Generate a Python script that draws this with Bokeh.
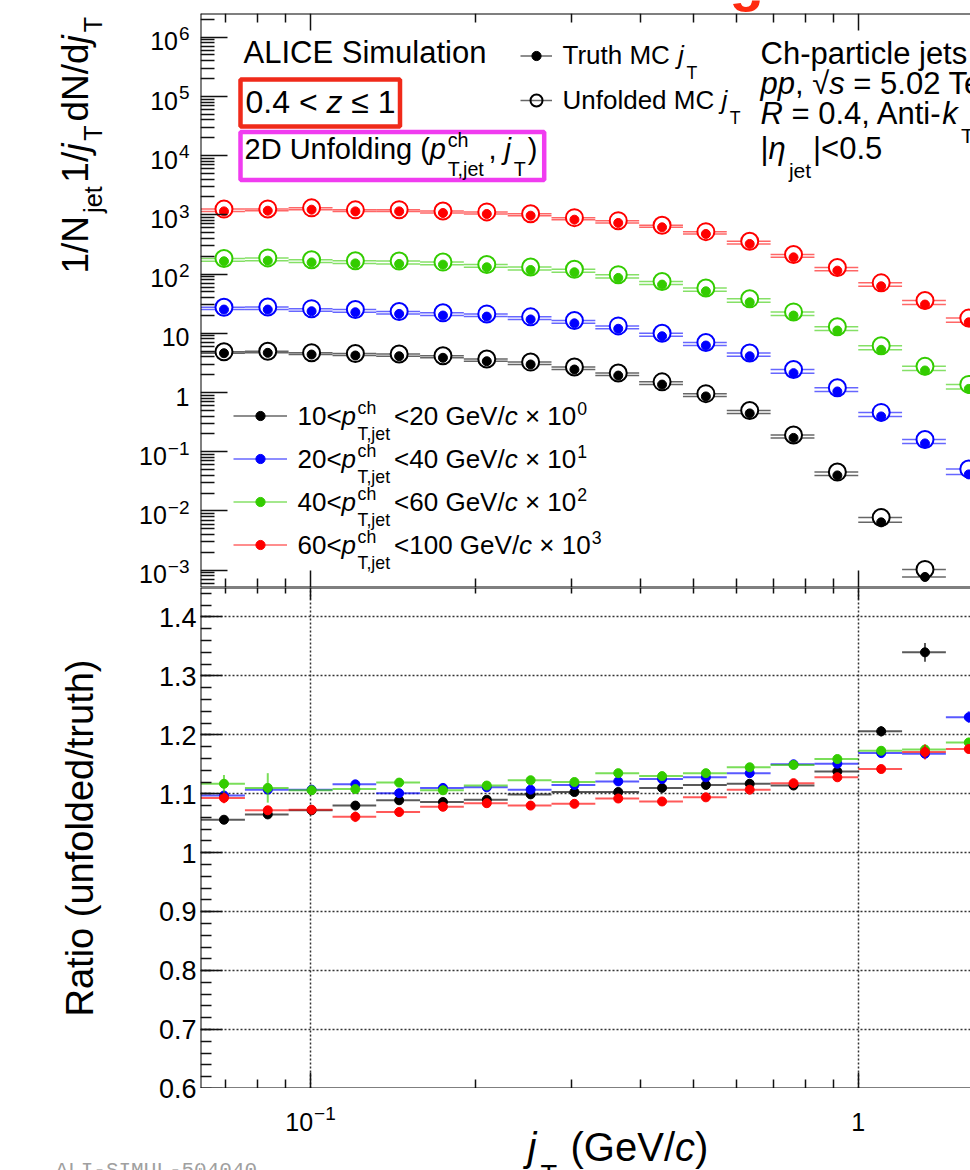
import math
from bokeh.plotting import figure
from bokeh.models import (ColumnDataSource, FixedTicker, LogAxis, Label, BoxAnnotation,
                          Legend, LegendItem, Range1d, CustomJSTickFormatter)
from bokeh.layouts import column, row
from bokeh.embed import file_html
from bokeh.resources import INLINE

# ---------------- data ----------------
jt_edges = [0.0631, 0.0759, 0.0912, 0.1097, 0.1318, 0.1585, 0.1905, 0.2291, 0.2754,
            0.3311, 0.3981, 0.4786, 0.5754, 0.6918, 0.8318, 1.0, 1.2023, 1.4454, 1.7378]

pt_low = [10, 20, 40, 60]
pt_high = [20, 40, 60, 100]
scale_exp = [0, 1, 2, 3]
colors = ["#000000", "#0000ff", "#33cc00", "#ff0000"]

truth_10_20 = [4.60, 4.67, 4.37, 4.21, 4.09, 3.85, 3.37, 2.97, 2.44, 1.93, 1.36, 0.857,
               0.443, 0.171, 0.0398, 0.00642, 0.000768]
unfolded_10_20 = [4.86, 4.97, 4.69, 4.55, 4.45, 4.18, 3.67, 3.26, 2.69, 2.13, 1.51, 0.956,
                  0.495, 0.191, 0.0453, 0.00774, 0.00103]
ratio_10_20 = [1.056, 1.065, 1.072, 1.080, 1.089, 1.086, 1.090, 1.099, 1.103, 1.103, 1.110,
               1.115, 1.117, 1.114, 1.138, 1.206, 1.340]
ratio_err_10_20 = [0.004, 0.004, 0.004, 0.004, 0.004, 0.004, 0.004, 0.004, 0.004, 0.004,
                   0.005, 0.005, 0.005, 0.006, 0.007, 0.009, 0.016]

truth_20_40 = [2.51, 2.51, 2.35, 2.26, 2.12, 1.99, 1.91, 1.71, 1.47, 1.19, 0.889, 0.620,
               0.409, 0.212, 0.104, 0.0394, 0.0138, 0.00414]
unfolded_20_40 = [2.75, 2.78, 2.60, 2.52, 2.33, 2.21, 2.12, 1.89, 1.64, 1.33, 1.00, 0.699,
                  0.464, 0.244, 0.120, 0.0461, 0.0161, 0.00509]
ratio_20_40 = [1.097, 1.107, 1.107, 1.116, 1.101, 1.110, 1.111, 1.107, 1.115, 1.121, 1.125,
               1.128, 1.135, 1.150, 1.151, 1.169, 1.168, 1.230]
ratio_err_20_40 = [0.005, 0.005, 0.004, 0.004, 0.004, 0.004, 0.004, 0.004, 0.004, 0.004,
                   0.004, 0.004, 0.005, 0.005, 0.006, 0.007, 0.008, 0.010]

truth_40_60 = [1.64, 1.68, 1.57, 1.51, 1.48, 1.44, 1.30, 1.17, 1.07, 0.859, 0.662, 0.511,
               0.333, 0.199, 0.111, 0.0525, 0.0235, 0.0115]
unfolded_40_60 = [1.83, 1.87, 1.74, 1.67, 1.66, 1.59, 1.45, 1.31, 1.20, 0.975, 0.748, 0.580,
                  0.381, 0.229, 0.129, 0.0616, 0.0276, 0.0137]
ratio_40_60 = [1.117, 1.110, 1.106, 1.108, 1.119, 1.106, 1.114, 1.123, 1.120, 1.135, 1.130,
               1.135, 1.145, 1.149, 1.159, 1.173, 1.175, 1.187]
ratio_err_40_60 = [0.015, 0.025, 0.005, 0.004, 0.004, 0.004, 0.004, 0.004, 0.004, 0.004,
                   0.004, 0.004, 0.005, 0.005, 0.005, 0.006, 0.007, 0.008]

truth_60_100 = [1.141, 1.172, 1.219, 1.141, 1.141, 1.072, 1.031, 0.966, 0.826, 0.728, 0.614,
                0.474, 0.322, 0.191, 0.114, 0.0621, 0.0305, 0.0153]
unfolded_60_100 = [1.247, 1.256, 1.308, 1.211, 1.220, 1.156, 1.118, 1.043, 0.895, 0.795,
                   0.667, 0.519, 0.357, 0.214, 0.129, 0.0709, 0.0357, 0.0180]
ratio_60_100 = [1.093, 1.072, 1.073, 1.061, 1.069, 1.078, 1.084, 1.080, 1.083, 1.092, 1.087,
                1.094, 1.107, 1.118, 1.128, 1.142, 1.171, 1.176]
ratio_err_60_100 = [0.009, 0.005, 0.004, 0.009, 0.004, 0.004, 0.004, 0.004, 0.004, 0.004,
                    0.004, 0.004, 0.005, 0.005, 0.005, 0.006, 0.013, 0.008]

truth = [truth_10_20, truth_20_40, truth_40_60, truth_60_100]
unfolded = [unfolded_10_20, unfolded_20_40, unfolded_40_60, unfolded_60_100]
ratio = [ratio_10_20, ratio_20_40, ratio_40_60, ratio_60_100]
ratio_err = [ratio_err_10_20, ratio_err_20_40, ratio_err_40_60, ratio_err_60_100]

X0, X1 = 0.06297, 1.603
Y0, Y1 = 5.1e-4, 2.5e6
R0, R1 = 0.6, 1.45

y_major = [10.0 ** n for n in range(-3, 7)]
y_minor = [k * 10.0 ** n for n in range(-4, 7) for k in range(2, 10)
           if Y0 < k * 10.0 ** n < Y1]
x_major = [0.1, 1.0]
x_minor = [0.07, 0.08, 0.09, 0.2, 0.3, 0.4, 0.5, 0.6, 0.7, 0.8, 0.9]
r_major = [0.6, 0.7, 0.8, 0.9, 1.0, 1.1, 1.2, 1.3, 1.4]
r_minor = [round(0.6 + 0.02 * i, 2) for i in range(0, 43)]

# ---------------- page geometry ----------------
FR_L, FR_R = 200, 970
UP_T, UP_B = 13, 587
LO_T, LO_B = 587, 1088
PAGE_H = 1170


def xpage(v):
    return FR_L + (math.log10(v) - math.log10(X0)) / (math.log10(X1) - math.log10(X0)) * (FR_R - FR_L)


def ypage_up(v):
    return UP_B - (math.log10(v) - math.log10(Y0)) / (math.log10(Y1) - math.log10(Y0)) * (UP_B - UP_T)


def ypage_lo(v):
    return LO_B - (v - R0) / (R1 - R0) * (LO_B - LO_T)


# ---------------- text helpers ----------------
FONT = "Liberation Sans"
W = {' ': 278, '!': 278, '(': 333, ')': 333, ',': 278, '-': 333, '.': 278, '/': 278,
     '<': 584, '=': 584, '>': 584, '|': 260, '≤': 549, '×': 584, '−': 584, '√': 549, 'η': 556,
     'A': 667, 'B': 667, 'C': 722, 'D': 722, 'E': 667, 'F': 611, 'G': 778, 'H': 722, 'I': 278,
     'J': 500, 'K': 667, 'L': 556, 'M': 833, 'N': 722, 'O': 778, 'P': 667, 'Q': 778, 'R': 722,
     'S': 667, 'T': 611, 'U': 722, 'V': 667, 'W': 944, 'X': 667, 'Y': 667, 'Z': 611,
     'a': 556, 'b': 556, 'c': 500, 'd': 556, 'e': 556, 'f': 278, 'g': 556, 'h': 556, 'i': 222,
     'j': 222, 'k': 500, 'l': 222, 'm': 833, 'n': 556, 'o': 556, 'p': 556, 'q': 556, 'r': 333,
     's': 500, 't': 278, 'u': 556, 'v': 500, 'w': 722, 'x': 500, 'y': 500, 'z': 500}
for d in "0123456789":
    W[d] = 556

BASE_SHIFT = 0.35   # the anchor Bokeh uses sits this many em above the alphabetic baseline


def tw(s, fs):
    return sum(W.get(c, 556) for c in s) * fs / 1000.0


class Writer:
    """Places texts given in page pixel coordinates (baseline) on one figure."""

    def __init__(self, fig, frame_mode):
        self.fig = fig
        self.frame_mode = frame_mode

    def lab(self, x, y, text, fs, style="normal", color="black", angle=0.0, align="left",
            font=FONT):
        if align == "left":
            stripped = text.lstrip(" ")
            adv = tw(text[:len(text) - len(stripped)], fs)
            if angle == 0.0:
                x += adv
            else:
                y -= adv
            text = stripped.rstrip(" ")
        if angle == 0.0:
            y -= BASE_SHIFT * fs
        else:
            x -= BASE_SHIFT * fs
        if self.frame_mode:
            kw = dict(x=x - FR_L, y=UP_B - y, x_units="screen", y_units="screen")
        else:
            kw = dict(x=x, y=y, x_units="data", y_units="data")
        self.fig.add_layout(Label(text=text, text_font=font, text_font_size="%.1fpx" % fs,
                                  text_font_style=style, text_color=color, text_align=align,
                                  text_baseline="alphabetic", angle=angle, **kw))

    def rich(self, x, base, fs, parts, color="black"):
        small = fs * 0.68
        for part in parts:
            kind = part[0]
            if kind in ("n", "i"):
                self.lab(x, base, part[1], fs, "italic" if kind == "i" else "normal", color)
                x += tw(part[1], fs)
            elif kind == "sup":
                x += 0.04 * fs
                self.lab(x, base - 0.42 * fs, part[1], small, "normal", color)
                x += tw(part[1], small) + 0.04 * fs
            elif kind == "sub":
                x += 0.1 * fs
                self.lab(x, base + 0.58 * fs, part[1], small, "normal", color)
                x += tw(part[1], small) + 0.06 * fs
            elif kind == "stack":
                x += 0.06 * fs
                self.lab(x, base - 0.42 * fs, part[1], small, "normal", color)
                self.lab(x, base + 0.58 * fs, part[2], small, "normal", color)
                x += max(tw(part[1], small), tw(part[2], small)) + 0.08 * fs

    def rich_v(self, xb, y, fs, parts):
        small = fs * 0.68
        for kind, t in parts:
            if kind in ("n", "i"):
                self.lab(xb, y, t, fs, "italic" if kind == "i" else "normal",
                         angle=math.pi / 2)
                y -= tw(t, fs)
            else:
                y -= 0.08 * fs
                self.lab(xb + 0.37 * fs, y, t, small, angle=math.pi / 2)
                y -= tw(t, small) + 0.1 * fs


BLANK = "return '';"


def style_axis(ax, major_in, minor_in, loc):
    ax.fixed_location = loc
    ax.major_tick_in = major_in
    ax.major_tick_out = 0
    ax.minor_tick_in = minor_in
    ax.minor_tick_out = 0
    ax.axis_line_width = 2
    ax.axis_line_color = "black"
    ax.major_tick_line_width = 1.5
    ax.minor_tick_line_width = 1.5
    ax.major_tick_line_color = "#111111"
    ax.minor_tick_line_color = "#111111"
    ax.formatter = CustomJSTickFormatter(code=BLANK)
    ax.major_label_text_font_size = "1px"
    ax.major_label_standoff = 0


def text_canvas(w, h, xr, yr):
    f = figure(width=w, height=h, x_range=xr, y_range=yr, x_axis_location=None,
               y_axis_location=None, min_border=0, toolbar_location=None,
               output_backend="svg")
    f.outline_line_color = None
    f.grid.visible = False
    f.background_fill_color = "white"
    f.border_fill_color = "white"
    return f


# ---------------- figures ----------------
xr = Range1d(X0, X1)

p1 = figure(width=FR_R - FR_L, height=UP_B - UP_T, x_axis_type="log", y_axis_type="log",
            x_range=xr, y_range=Range1d(Y0, Y1), output_backend="svg", toolbar_location=None,
            min_border=0)
p2 = figure(width=FR_R - FR_L, height=LO_B - LO_T, x_axis_type="log", x_range=xr,
            y_range=Range1d(R0, R1), output_backend="svg", toolbar_location=None,
            min_border=0)
left = text_canvas(FR_L, PAGE_H, Range1d(0, FR_L), Range1d(PAGE_H, 0))
topstrip = text_canvas(FR_R - FR_L, UP_T, Range1d(FR_L, FR_R), Range1d(UP_T, 0))
bot = text_canvas(FR_R - FR_L, PAGE_H - LO_B, Range1d(FR_L, FR_R), Range1d(PAGE_H, LO_B))

for p in (p1, p2):
    p.outline_line_color = None
    p.background_fill_color = "white"
    p.border_fill_color = "white"

p1.grid.visible = False

# upper axes
p1.xaxis[0].ticker = FixedTicker(ticks=x_major, minor_ticks=x_minor)
style_axis(p1.xaxis[0], 17, 9, Y0)
top1 = LogAxis(ticker=FixedTicker(ticks=x_major, minor_ticks=x_minor))
style_axis(top1, 17, 9, Y1)
p1.add_layout(top1, "above")
p1.yaxis[0].ticker = FixedTicker(ticks=y_major, minor_ticks=y_minor)
style_axis(p1.yaxis[0], 27, 14, X0)

# lower axes
p2.xaxis[0].ticker = FixedTicker(ticks=x_major, minor_ticks=x_minor)
style_axis(p2.xaxis[0], 16, 9, R0)
top2 = LogAxis(ticker=FixedTicker(ticks=x_major, minor_ticks=x_minor))
style_axis(top2, 12, 6, R1)
p2.add_layout(top2, "above")
p2.yaxis[0].ticker = FixedTicker(ticks=r_major, minor_ticks=r_minor)
style_axis(p2.yaxis[0], 22, 11, X0)

p2.xgrid.ticker = FixedTicker(ticks=x_major)
p2.ygrid.ticker = FixedTicker(ticks=r_major[1:])
p2.grid.grid_line_color = "#333333"
p2.grid.grid_line_dash = "2 2"
p2.grid.grid_line_width = 1.5

# ---------------- data glyphs ----------------
truth_bars, truth_dots, unf_bars, unf_circ = [], [], [], []
for i in range(4):
    n = len(truth[i])
    lo = jt_edges[:n]
    hi = jt_edges[1:n + 1]
    xc = [(a + b) / 2 for a, b in zip(lo, hi)]
    s = 10.0 ** scale_exp[i]
    src_t = ColumnDataSource(dict(x0=lo, x1=hi, xc=xc, y=[v * s for v in truth[i]]))
    src_u = ColumnDataSource(dict(x0=lo, x1=hi, xc=xc, y=[v * s for v in unfolded[i]]))
    tb = p1.segment(x0="x0", y0="y", x1="x1", y1="y", source=src_t, line_color=colors[i],
                    line_alpha=0.6, line_width=1.5)
    ub = p1.segment(x0="x0", y0="y", x1="x1", y1="y", source=src_u, line_color=colors[i],
                    line_alpha=0.6, line_width=1.5)
    uc = p1.scatter(x="xc", y="y", source=src_u, marker="circle", size=17,
                    line_color=colors[i], line_width=2, fill_color="white")
    td = p1.scatter(x="xc", y="y", source=src_t, marker="circle", size=9,
                    line_color=colors[i], fill_color=colors[i])
    truth_bars.append(tb)
    truth_dots.append(td)
    unf_bars.append(ub)
    unf_circ.append(uc)

    src_r = ColumnDataSource(dict(x0=lo, x1=hi, xc=xc, y=ratio[i],
                                  ylo=[r - e for r, e in zip(ratio[i], ratio_err[i])],
                                  yhi=[r + e for r, e in zip(ratio[i], ratio_err[i])]))
    p2.segment(x0="x0", y0="y", x1="x1", y1="y", source=src_r, line_color=colors[i],
               line_alpha=0.65, line_width=2)
    p2.segment(x0="xc", y0="ylo", x1="xc", y1="yhi", source=src_r, line_color=colors[i],
               line_alpha=0.65, line_width=2)
    p2.scatter(x="xc", y="y", source=src_r, marker="circle", size=9,
               line_color=colors[i], fill_color=colors[i])

# ---------------- legends (glyphs only; texts drawn as labels) ----------------
leg_common = dict(orientation="vertical", label_standoff=0, label_width=2, padding=0,
                  margin=0, border_line_color=None, background_fill_alpha=0,
                  label_text_font_size="2px", label_text_alpha=0)
ROW0, ROWSTEP = 415.5, 43
leg_pt = Legend(items=[LegendItem(label="·", renderers=[truth_bars[i], truth_dots[i]])
                       for i in range(4)],
                location=(233 - FR_L, UP_B - (ROW0 - 11.5 + 4 * 23 + 3 * 20)),
                glyph_width=54, glyph_height=23, label_height=23, spacing=20, **leg_common)
leg_truth = Legend(items=[LegendItem(label="·", renderers=[truth_bars[0], truth_dots[0]])],
                   location=(520 - FR_L, UP_B - 66.5), glyph_width=32, glyph_height=23,
                   label_height=23, spacing=0, **leg_common)
leg_unf = Legend(items=[LegendItem(label="·", renderers=[unf_circ[0], unf_bars[0]])],
                 location=(520 - FR_L, UP_B - 115), glyph_width=32, glyph_height=30,
                 label_height=30, spacing=0, **leg_common)
for lg in (leg_pt, leg_truth, leg_unf):
    p1.add_layout(lg)

# ---------------- texts inside the upper frame ----------------
T1 = Writer(p1, True)
T1.lab(243, 63, "ALICE Simulation", 31)

box_kw = dict(left_units="screen", right_units="screen", top_units="screen",
              bottom_units="screen", fill_alpha=0, line_alpha=1, line_width=4.5)
p1.add_layout(BoxAnnotation(left=240 - FR_L, right=399.5 - FR_L, top=UP_B - 79,
                            bottom=UP_B - 126, line_color="#f02a1a", **box_kw))
T1.rich(245, 113, 32, [("n", "0.4 < "), ("i", "z"), ("n", " ≤ 1")])

p1.add_layout(BoxAnnotation(left=240 - FR_L, right=543.7 - FR_L, top=UP_B - 131.5,
                            bottom=UP_B - 179.5, line_color="#f03cf0", **box_kw))
T1.rich(244, 159, 29, [("n", "2D Unfolding ("), ("i", "p"), ("stack", "ch", "T,jet"),
                       ("n", ", "), ("i", "j"), ("sub", "T"), ("n", ")")])

T1.rich(562, 64, 26, [("n", "Truth MC "), ("i", "j"), ("sub", "T")])
T1.rich(562, 109, 26, [("n", "Unfolded MC "), ("i", "j"), ("sub", "T")])

T1.rich(760, 64, 31, [("n", "Ch-particle jets")])
T1.rich(760, 94, 31, [("i", "pp"), ("n", ", √"), ("i", "s"), ("n", " = 5.02 TeV")])
T1.rich(760, 124, 31, [("i", "R"), ("n", " = 0.4, Anti-"), ("i", "k"), ("sub", "T")])
T1.rich(760, 159, 31, [("n", "|"), ("i", "η"), ("sub", "jet"), ("n", "|<0.5")])

for i in range(4):
    base = ROW0 + 9.5 + ROWSTEP * i
    T1.rich(297, base, 26,
            [("n", "%d<" % pt_low[i]), ("i", "p"), ("stack", "ch", "T,jet"),
             ("n", "<%d GeV/" % pt_high[i]), ("i", "c"), ("n", " × 10"),
             ("sup", "%d" % scale_exp[i])])

# ---------------- title remnant above the frame (cut by the page edge) ----------------
TT = Writer(topstrip, False)
TT.lab(729, 0, "g", 56, style="bold", color="#ff2a10")

# ---------------- left margin texts ----------------
TL = Writer(left, False)
TF = 25
SUPF = 19
for n in range(-3, 7):
    base = ypage_up(10.0 ** n) + 0.36 * TF + 4
    if n in (0, 1):
        TL.lab(189, base, "1" if n == 0 else "10", TF, align="right")
    else:
        sup = ("−%d" % (-n)) if n < 0 else "%d" % n
        ws = tw(sup, SUPF)
        TL.lab(189 - ws - 1, base, "10", TF, align="right")
        TL.lab(189 - ws, base - 0.4 * TF, sup, SUPF)

TR = 27
for v in r_major:
    TL.lab(196, ypage_lo(v) + 0.36 * TR, "1" if abs(v - 1) < 1e-9 else "%.1f" % v, TR,
           align="right")

TL.rich_v(88, 273, 37, [("n", "1/N"), ("sub", "jet"), ("n", "1/"), ("i", "j"), ("sub", "T"),
                        ("n", "dN/d"), ("i", "j"), ("sub", "T")])
TL.lab(93, (ypage_lo(R0) + ypage_lo(R1)) / 2, "Ratio (unfolded/truth)", 38,
       angle=math.pi / 2, align="center")
TL.lab(55, 1177, "ALI-SIMUL-504040", 21, color="#a0a0a0", font="Liberation Mono")

# ---------------- bottom texts ----------------
TB = Writer(bot, False)
wb = tw("10", TF)
ws = tw("−1", SUPF)
x01 = xpage(0.1) - (wb + ws + 1) / 2
TB.lab(x01, 1130, "10", TF)
TB.lab(x01 + wb + 1, 1130 - 0.4 * TF, "−1", SUPF)
TB.lab(xpage(1.0), 1130, "1", TF, align="center")
TB.rich(527, 1160, 40, [("i", "j"), ("sub", "T"), ("n", " (GeV/"), ("i", "c"), ("n", ")")])
TB.lab(55, 1177, "ALI-SIMUL-504040", 21, color="#a0a0a0", font="Liberation Mono")

layout = row(left, column(topstrip, p1, p2, bot))
open("out.html", "w").write(file_html(layout, INLINE))
